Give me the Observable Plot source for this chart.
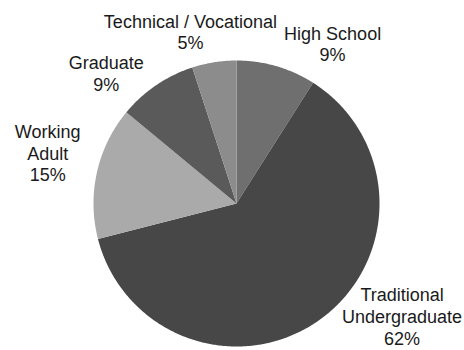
<!DOCTYPE html>
<html><head><meta charset="utf-8">
<script src="https://cdn.jsdelivr.net/npm/d3@7"></script>
<script src="https://cdn.jsdelivr.net/npm/@observablehq/plot@0.6"></script>
<style>html,body{margin:0;padding:0;background:#fff}</style>
</head><body><div id="chart"></div>
<script>
// Data
const categories = ["High School", "Traditional Undergraduate", "Working Adult", "Graduate", "Technical / Vocational"];
const shares = [9, 62, 15, 9, 5];
const percentLabels = ["9%", "62%", "15%", "9%", "5%"];
const labelNames = ["High School", "Traditional\nUndergraduate", "Working\nAdult", "Graduate", "Technical / Vocational"];
// Styles / layout
const sliceColors = ["#6f6f6f", "#474747", "#aaaaaa", "#5a5a5a", "#8c8c8c"];
const labelAngleDeg = [31, 124.2, 285, 315, 345];
const labelRadius = [1.305, 1.40, 1.367, 1.288, 1.245];

const rows = categories.map((c, i) => ({category: c, value: shares[i]}));
const arcs = d3.pie().sort(null).value(d => d.value)(rows);

const polys = [];
arcs.forEach(a => {
  const cat = a.data.category;
  polys.push({category: cat, x: 0, y: 0});
  const n = Math.max(2, Math.ceil((a.endAngle - a.startAngle) / (Math.PI / 360)));
  for (let k = 0; k <= n; k++) {
    const t = a.startAngle + (a.endAngle - a.startAngle) * k / n;
    polys.push({category: cat, x: Math.sin(t), y: Math.cos(t)});
  }
  polys.push({category: cat, x: 0, y: 0});
});

const labels = categories.map((c, i) => {
  const t = labelAngleDeg[i] * Math.PI / 180;
  return {category: c, text: labelNames[i] + "\n" + percentLabels[i],
          x: labelRadius[i] * Math.sin(t), y: labelRadius[i] * Math.cos(t)};
});

const chart = Plot.plot({
  width: 464,
  height: 350,
  marginLeft: 93,
  marginRight: 85,
  marginTop: 60,
  marginBottom: 4,
  x: {domain: [-1, 1], axis: null},
  y: {domain: [-1, 1], axis: null},
  color: {domain: categories, range: sliceColors},
  style: {fontFamily: "Arial, 'Liberation Sans', sans-serif", background: "#fff"},
  marks: [
    Plot.line(polys, {x: "x", y: "y", z: "category", fill: "category", stroke: "none", curve: "linear"}),
    Plot.text(labels, {x: "x", y: "y", text: "text", fontSize: 18, lineHeight: 1.2, fill: "#1a1a1a", textAnchor: "middle"})
  ]
});
document.getElementById("chart").appendChild(chart);
</script>
</body></html>
